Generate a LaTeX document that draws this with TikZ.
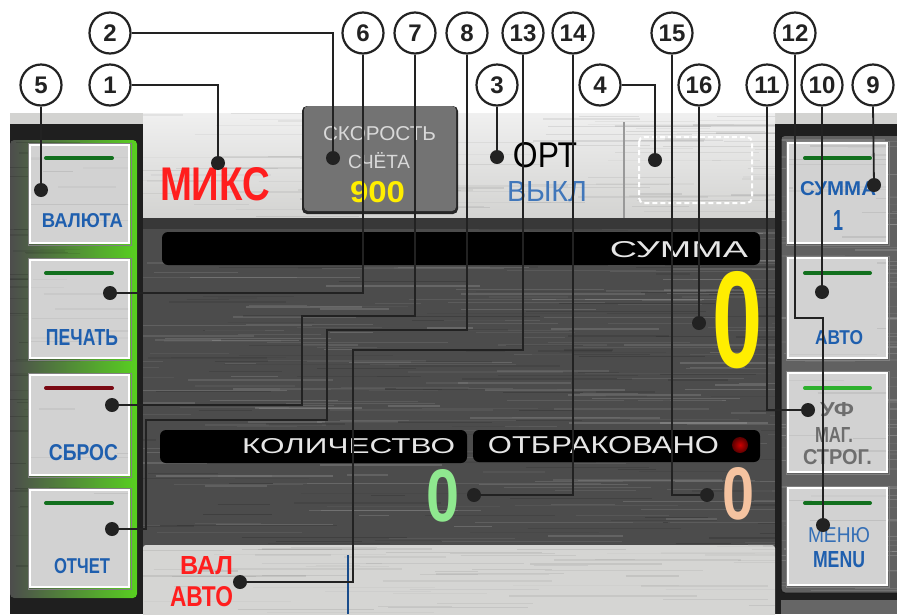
\documentclass[tikz,border=0pt]{standalone}
\usepackage{fontspec}
\setmainfont{Liberation Sans}
\usepackage{graphicx}
\definecolor{callout}{HTML}{222222}
\definecolor{lightmetal}{HTML}{D3D3D1}
\definecolor{darkmetal}{HTML}{4C4C4C}
\definecolor{btngrey}{HTML}{D2D2D2}
\definecolor{btnblue}{HTML}{1F5FAE}
\definecolor{dispred}{HTML}{FF1E1E}
\definecolor{dispyellow}{HTML}{FFEE00}
\definecolor{dispgreen}{HTML}{8FE88F}
\definecolor{disppeach}{HTML}{F5C3A0}
\definecolor{barGreen}{HTML}{12701E}
\definecolor{barRed}{HTML}{7A0A14}
\definecolor{barLight}{HTML}{2DB02D}
\definecolor{greytext}{HTML}{6E6E6E}
\definecolor{labeltext}{HTML}{E6E6E6}
\definecolor{panelgreen}{HTML}{58D020}
\newcommand{\fitbox}[3]{\resizebox{#1pt}{#2pt}{#3}}
\newcommand{\brushed}[6]{% x0 y0 w h count colour
  \begin{scope}
  \clip (#1,#2) rectangle ++(#3,#4);
  \foreach \i in {1,...,#5}{
    \pgfmathsetmacro\yy{#2+rnd*#4}
    \pgfmathsetmacro\xx{#1-40+rnd*(#3+40)}
    \pgfmathsetmacro\ll{30+rnd*160}
    \pgfmathsetmacro\op{0.04+rnd*0.12}
    \draw[#6, opacity=\op, line width=1.3pt] (\xx,\yy) -- ++(\ll,0);
  }
  \end{scope}}
\tikzset{
  num/.style={circle, draw=callout, line width=2.2pt, fill=white, minimum size=41pt,
    inner sep=0pt, font=\fontsize{24}{24}\selectfont\bfseries, text=callout},
  dot/.style={circle, fill=callout, minimum size=14pt, inner sep=0pt},
  lead/.style={draw=callout, line width=1.8pt},
  txt/.style={inner sep=0pt, outer sep=0pt},
  btnbox/.style={draw=white, line width=2.5pt, fill=btngrey},
  btnbar/.style={line width=4pt, line cap=round},
  labelbar/.style={fill=black, rounded corners=6pt},
}
\begin{document}
\begin{tikzpicture}[x=1pt,y=-1pt]
\pgfmathsetseed{7}
\useasboundingbox (0,0) rectangle (897,614);
\fill[white] (0,0) rectangle (897,614);
% ---------- screen ----------
\fill[darkmetal] (10,113) rectangle (897,614);
\fill[lightmetal] (10,113) rectangle (897,124);
\fill[top color=white!88!gray, bottom color=lightmetal] (143,113) rectangle (775,218);
\brushed{143}{113}{632}{105}{90}{black!60}
% main dark area
\fill[darkmetal] (143,218) rectangle (775,545);
\brushed{143}{218}{632}{327}{220}{white}
\brushed{143}{218}{632}{327}{140}{black}
\fill[black!78] (143,218) rectangle (775,229);
% left panel
\fill[black!88] (10,124) rectangle (143,614);
\fill[rounded corners=4pt, left color=black!70!white, middle color=black!55!panelgreen, right color=panelgreen] (10,140) rectangle (137,598);
\brushed{10}{140}{70}{458}{80}{black}
% right panel
\fill[black!88] (775,124) rectangle (897,614);
\fill[rounded corners=4pt, fill=black!62] (781,136) rectangle (905,593);
\brushed{781}{136}{116}{457}{90}{white}
\draw[black!90, line width=1pt, rounded corners=4pt] (781,136) -- (781,593) -- (905,593);
\fill[black!60] (781,600) rectangle (897,614);
% bottom bar
\fill[lightmetal!95!white, rounded corners=3pt] (143,545) rectangle (775,620);
\brushed{143}{545}{632}{69}{60}{black!60}
\draw[btnblue!80!black, line width=2pt] (348,555) -- (348,614);
% top bar contents
\fill[black!85, rounded corners=5pt] (302,106) rectangle (458,214);
\fill[black!55, rounded corners=4pt] (304,106) rectangle (456,211);
\draw[gray!80, line width=1.2pt] (624,122) -- (624,218);
\draw[white, line width=2pt, dash pattern=on 5pt off 3pt, rounded corners=5pt] (639,137) rectangle (752,203);
% label bars
\fill[labelbar] (162,232) rectangle (760,265);
\fill[labelbar] (160,430) rectangle (467,463);
\fill[labelbar] (473,430) rectangle (760,462);
\shade[inner color=red!80!black, outer color=red!35!black] (740,445) circle (8pt);
% left buttons
\foreach \ya/\yb/\bc in {145/243/barGreen, 260/358/barGreen, 375/475/barRed, 490/587/barGreen}{
  \draw[black!50, line width=1pt] (28,\ya-2) rectangle (131,\yb+2);
  \draw[btnbox] (30,\ya) rectangle (129,\yb);
  \brushed{31}{\ya+1}{97}{\yb-\ya-2}{25}{black!60}
  \draw[btnbar, \bc] (46,\ya+13) -- (112,\ya+13);
}
% right buttons
\foreach \ya/\yb/\bc in {143/243/barGreen, 258/358/barGreen, 373/472/barLight, 488/585/barGreen}{
  \draw[black!50, line width=1pt] (786,\ya-2) rectangle (889,\yb+2);
  \draw[btnbox] (788,\ya) rectangle (887,\yb);
  \brushed{789}{\ya+1}{97}{\yb-\ya-2}{25}{black!60}
  \draw[btnbar, \bc] (805,\ya+15) -- (870,\ya+15);
}
% ---------- screen texts ----------
\node[txt, text=dispred] (tmiks) at (215,184.5) {\fitbox{110}{33}{\bfseries МИКС}};
\node[txt, text=black!15] (tspeed) at (379.5,134) {\fitbox{113}{14}{СКОРОСТЬ}};
\node[txt, text=black!15] (tcount) at (379,161) {\fitbox{62}{16}{СЧЁТА}};
\node[txt, text=dispyellow] (t900) at (377.5,192.5) {\fitbox{55}{21}{\bfseries 900}};
\node[txt, text=black] (tort) at (545,155.5) {\fitbox{64}{25}{ОРТ}};
\node[txt, text=btnblue!85!white] (toff) at (547,192) {\fitbox{80}{20}{ВЫКЛ}};
\node[txt, text=labeltext] (tsum) at (679,250) {\fitbox{138}{16}{СУММА}};
\node[txt, text=dispyellow] (tsum0) at (738,320) {\fitbox{50}{96}{\bfseries 0}};
\node[txt, text=labeltext] (tqty) at (348.5,446.5) {\fitbox{213}{15}{КОЛИЧЕСТВО}};
\node[txt, text=labeltext] (trej) at (603.5,445.5) {\fitbox{231}{17}{ОТБРАКОВАНО}};
\node[txt, text=dispgreen] (tqty0) at (443.5,496) {\fitbox{33}{52}{\bfseries 0}};
\node[txt, text=disppeach] (trej0) at (739,494) {\fitbox{32}{52}{\bfseries 0}};
\node[txt, text=dispred] (tval) at (206.5,566) {\fitbox{53}{18}{\bfseries ВАЛ}};
\node[txt, text=dispred] (tvalauto) at (201.5,597) {\fitbox{63}{20}{\bfseries АВТО}};
% left button texts
\node[txt, text=btnblue] (bcur) at (82.5,221) {\fitbox{81}{14}{\bfseries ВАЛЮТА}};
\node[txt, text=btnblue] (bprint) at (82,337) {\fitbox{72}{16}{\bfseries ПЕЧАТЬ}};
\node[txt, text=btnblue] (breset) at (83.5,453) {\fitbox{69}{16}{\bfseries СБРОС}};
\node[txt, text=btnblue] (breport) at (82,566) {\fitbox{56}{15}{\bfseries ОТЧЕТ}};
% right button texts
\node[txt, text=btnblue] (bsum) at (838,189) {\fitbox{76}{14}{\bfseries СУММА}};
\node[txt, text=btnblue] (bsum1) at (838,220) {\fitbox{10}{20}{\bfseries 1}};
\node[txt, text=btnblue] (bauto) at (839,338) {\fitbox{48}{14}{\bfseries АВТО}};
\node[txt, text=greytext] (buv) at (837,410) {\fitbox{34}{14}{\bfseries УФ}};
\node[txt, text=greytext] (bmag) at (834,434.5) {\fitbox{38}{15}{\bfseries МАГ.}};
\node[txt, text=greytext] (bstrict) at (837.5,457.5) {\fitbox{69}{15}{\bfseries СТРОГ.}};
\node[txt, text=btnblue!90!white] (bmenu) at (839,535.5) {\fitbox{62}{15}{МЕНЮ}};
\node[txt, text=btnblue] (bmenuen) at (839,560) {\fitbox{52}{16}{\bfseries MENU}};
% ---------- callouts ----------
\node[num] (c1) at (110,85) {1};
\node[num] (c2) at (110,33) {2};
\node[num] (c3) at (497,85) {3};
\node[num] (c4) at (600,85) {4};
\node[num] (c5) at (41,85) {5};
\node[num] (c6) at (363,33) {6};
\node[num] (c7) at (415,33) {7};
\node[num] (c8) at (467,33) {8};
\node[num] (c9) at (873,85) {9};
\node[num] (c10) at (822,85) {10};
\node[num] (c11) at (767,85) {11};
\node[num] (c12) at (795,33) {12};
\node[num] (c13) at (523,33) {13};
\node[num] (c14) at (573,33) {14};
\node[num] (c15) at (672,33) {15};
\node[num] (c16) at (699,85) {16};
\node[dot] (d1) at (218,163) {};
\node[dot] (d2) at (333,158) {};
\node[dot] (d3) at (497,157) {};
\node[dot] (d4) at (655,160) {};
\node[dot] (d5) at (41,190) {};
\node[dot] (d6) at (110,293) {};
\node[dot] (d7) at (112,405) {};
\node[dot] (d8) at (112,529) {};
\node[dot] (d9) at (874,185) {};
\node[dot] (d10) at (822,292) {};
\node[dot] (d11) at (808,410) {};
\node[dot] (d12) at (823,525) {};
\node[dot] (d13) at (240,582) {};
\node[dot] (d14) at (474,495) {};
\node[dot] (d15) at (707,495) {};
\node[dot] (d16) at (699,323) {};
\draw[lead] (c1.east) -| (d1);
\draw[lead] (c2.east) -| (d2);
\draw[lead] (c3.south) -- (d3);
\draw[lead] (c4.east) -| (d4);
\draw[lead] (c5.south) -- (d5);
\draw[lead] (c6.south) |- (d6);
\draw[lead] (c7.south) |- (302,316) |- (d7);
\draw[lead] (c8.south) |- (327,330) |- (146,420) |- (d8);
\draw[lead] (c9.south) -- (d9);
\draw[lead] (c10.south) -- (d10);
\draw[lead] (c11.south) |- (d11);
\draw[lead] (c12.south) |- (823,318) -- (d12);
\draw[lead] (c13.south) |- (353,350) |- (d13);
\draw[lead] (c14.south) |- (d14);
\draw[lead] (c15.south) |- (d15);
\draw[lead] (c16.south) -- (d16);
\end{tikzpicture}
\end{document}
